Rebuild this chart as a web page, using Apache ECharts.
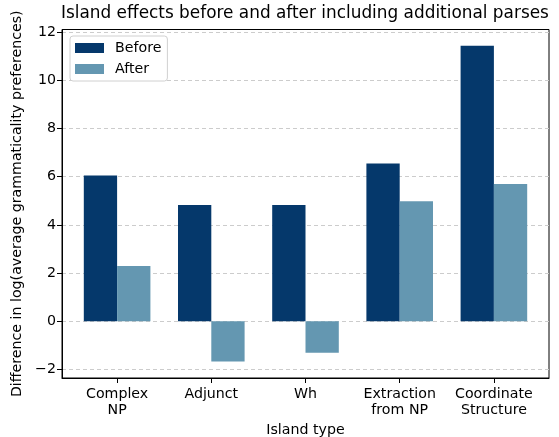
<!DOCTYPE html>
<html>
<head>
<meta charset="utf-8">
<script src="https://cdn.jsdelivr.net/npm/echarts@6/dist/echarts.min.js"></script>
<style>
html,body{margin:0;padding:0;background:#fff;}
#c{width:559px;height:437px;}
</style>
</head>
<body>
<div id="c"></div>
<script>
const categories = ['Complex\nNP', 'Adjunct', 'Wh', 'Extraction\nfrom NP', 'Coordinate\nStructure'];
const beforeValues = [6.05, 4.82, 4.82, 6.55, 11.44];
const afterValues = [2.29, -1.68, -1.31, 4.98, 5.69];
const yTicks = [-2, 0, 2, 4, 6, 8, 10, 12];
const xTicks = categories.map((c, i) => i);

const FONT = "'DejaVu Sans', sans-serif";
const FS = 14.2;
const chart = echarts.init(document.getElementById('c'), null, {renderer: 'canvas'});
chart.setOption({
  animation: false,
  backgroundColor: '#fff',
  title: {
    text: 'Island effects before and after including additional parses',
    left: 61, top: 5.5, padding: 0,
    textStyle: {fontFamily: FONT, fontSize: 16.9, fontWeight: 'normal', color: '#000'}
  },
  legend: {
    orient: 'vertical', left: 70, top: 36,
    padding: [5, 6, 5, 5], itemGap: 7,
    itemWidth: 29, itemHeight: 10, icon: 'rect',
    backgroundColor: '#fff', borderColor: '#d0d0d0', borderWidth: 1, borderRadius: 3,
    textStyle: {fontFamily: FONT, fontSize: FS, color: '#000', padding: [0, 0, 0, 6]},
    data: ['Before', 'After']
  },
  grid: {left: 62, right: 10, top: 29.5, bottom: 59, containLabel: false, outerBoundsMode: 'none',
    show: true, borderColor: '#000', borderWidth: 1, backgroundColor: 'transparent'},
  xAxis: {
    type: 'value', min: -0.585, max: 4.585,
    name: 'Island type', nameLocation: 'middle', nameGap: 45.5,
    nameTextStyle: {fontFamily: FONT, fontSize: FS, color: '#000'},
    axisLine: {show: true, onZero: false, lineStyle: {color: '#000', width: 1}},
    axisTick: {show: true, length: 5, customValues: xTicks, lineStyle: {color: '#000'}},
    axisLabel: {customValues: xTicks, margin: 8, fontFamily: FONT, fontSize: FS, color: '#000', lineHeight: 16,
      formatter: v => categories[Math.round(v)] || ''},
    splitLine: {show: false}
  },
  yAxis: {
    type: 'value', min: -2.36, max: 12.11,
    name: 'Difference in log(average grammaticality preferences)', nameLocation: 'middle', nameGap: 37,
    nameTextStyle: {fontFamily: FONT, fontSize: FS, color: '#000'},
    axisLine: {show: true, onZero: false, lineStyle: {color: '#000', width: 1}},
    axisTick: {show: true, length: 5, customValues: yTicks, lineStyle: {color: '#000'}},
    axisLabel: {customValues: yTicks, margin: 6, fontFamily: FONT, fontSize: FS, color: '#000',
      formatter: v => String(v).replace('-', '\u2212')},
    splitLine: {show: true, lineStyle: {color: '#cccccc', type: [4, 3], width: 1}}
  },
  series: [
    {name: 'Before', type: 'bar', barWidth: 33.3, barGap: '0%', itemStyle: {color: '#05386b'},
      data: beforeValues.map((v, i) => [i, v])},
    {name: 'After', type: 'bar', barWidth: 33.3, barGap: '0%', itemStyle: {color: '#6497b1'},
      data: afterValues.map((v, i) => [i, v])}
  ]
});
</script>
</body>
</html>
